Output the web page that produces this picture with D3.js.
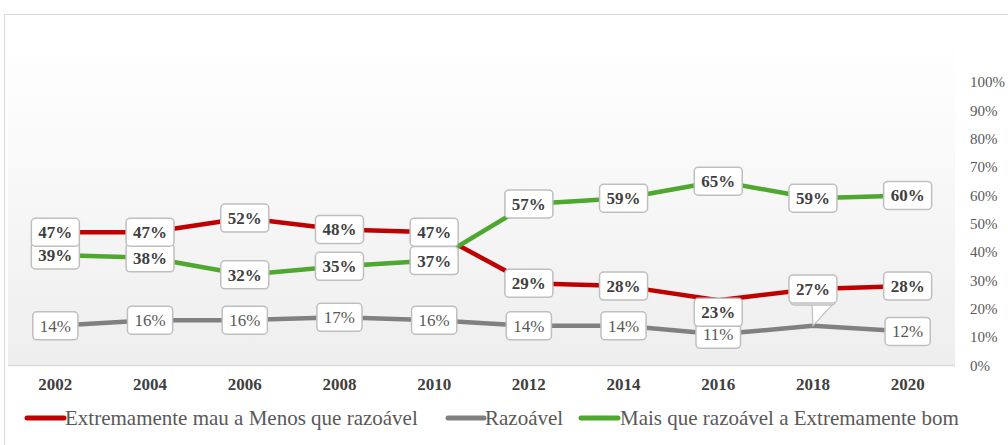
<!DOCTYPE html>
<html>
<head>
<meta charset="utf-8">
<script src="https://cdn.jsdelivr.net/npm/d3@7/dist/d3.min.js"></script>
<style>
  html, body { margin: 0; padding: 0; background: #fff; }
  svg { display: block; }
</style>
</head>
<body>
<svg id="chart" width="1008" height="445"></svg>
<script>
const years = ["2002","2004","2006","2008","2010","2012","2014","2016","2018","2020"];
const seriesNames = ["Extremamente mau a Menos que razoável", "Razoável", "Mais que razoável a Extremamente bom"];
const seriesColors = ["#c00000", "#808080", "#4ea72e"];
const redValues = [47, 47, 52, 48, 47, 29, 28, 23, 27, 28];
const grayValues = [14, 16, 16, 17, 16, 14, 14, 11, 14, 12];
const greenValues = [39, 38, 32, 35, 37, 57, 59, 65, 59, 60];
const yTicks = [0, 10, 20, 30, 40, 50, 60, 70, 80, 90, 100];

const series = [
  { name: seriesNames[0], color: seriesColors[0], values: redValues, bold: true },
  { name: seriesNames[1], color: seriesColors[1], values: grayValues, bold: false },
  { name: seriesNames[2], color: seriesColors[2], values: greenValues, bold: true }
];

const svg = d3.select("#chart");
const font = "'Liberation Serif', 'Times New Roman', serif";

// outer frame
svg.append("rect").attr("x", 4.5).attr("y", 14.5).attr("width", 1010).attr("height", 440)
  .attr("fill", "#fff").attr("stroke", "#d9d9d9").attr("stroke-width", 1);

const plot = { left: 8, right: 955, top: 40, bottom: 365.5 };

const x = d3.scaleBand().domain(years).range([plot.left, plot.right]).padding(0);
const xc = d => x(d) + x.bandwidth() / 2;
const y = d3.scaleLinear().domain([0, 100]).range([365.5, 82]);

// gradient background
const defs = svg.append("defs");
const grad = defs.append("linearGradient").attr("id", "bg").attr("x1", 0).attr("y1", 0).attr("x2", 0).attr("y2", 1);
grad.append("stop").attr("offset", "0%").attr("stop-color", "#ffffff");
grad.append("stop").attr("offset", "100%").attr("stop-color", "#eeeeee");
svg.append("rect").attr("x", plot.left).attr("y", plot.top)
  .attr("width", plot.right - plot.left).attr("height", plot.bottom - plot.top)
  .attr("fill", "url(#bg)");

// bottom axis line
svg.append("line").attr("x1", plot.left).attr("x2", plot.right)
  .attr("y1", plot.bottom).attr("y2", plot.bottom)
  .attr("stroke", "#d9d9d9").attr("stroke-width", 1.5);

// x axis labels
const xAxis = d3.axisBottom(x).tickSize(0).tickPadding(0);
const gx = svg.append("g").attr("transform", `translate(0,${plot.bottom})`).call(xAxis);
gx.select(".domain").remove();
gx.selectAll("text").attr("font-family", font).attr("font-size", 17).attr("font-weight", "bold")
  .attr("fill", "#404040").attr("dy", null).attr("y", 24);

// y axis labels (right)
const yAxis = d3.axisRight(y).tickValues(yTicks).tickSize(0).tickPadding(0).tickFormat(d => d + "%");
const gy = svg.append("g").attr("transform", `translate(970,0)`).call(yAxis);
gy.select(".domain").remove();
gy.selectAll("text").attr("font-family", font).attr("font-size", 15).attr("fill", "#595959")
  .attr("text-anchor", "start").attr("x", 0);

// lines
const line = d3.line().x((d, i) => xc(years[i])).y(d => y(d));
series.forEach(s => {
  svg.append("path").datum(s.values).attr("d", line)
    .attr("fill", "none").attr("stroke", s.color).attr("stroke-width", 4.5)
    .attr("stroke-linejoin", "round");
});

// labels
function drawLabel(g, cx, cy, text, bold, callout) {
  const grp = g.append("g");
  const t = grp.append("text").attr("x", cx).attr("y", cy).attr("dy", "0.35em")
    .attr("text-anchor", "middle").attr("font-family", font).attr("font-size", 17)
    .attr("font-weight", bold ? "bold" : "normal").attr("fill", bold ? "#404040" : "#595959")
    .text(text);
  const w = t.node().getComputedTextLength() + 14;
  const h = 28;
  if (callout) {
    grp.insert("path", "text")
      .attr("d", `M${callout.x0},${cy + h / 2 - 1} L${callout.tx},${callout.ty} L${callout.x1},${cy + h / 2 - 1}`)
      .attr("fill", "#fff").attr("stroke", "#bfbfbf").attr("stroke-width", 1.2);
  }
  grp.insert("rect", "text").attr("x", cx - w / 2).attr("y", cy - h / 2)
    .attr("width", w).attr("height", h).attr("rx", 4)
    .attr("fill", "#fff").attr("stroke", "#bfbfbf").attr("stroke-width", 1.5);
  return grp;
}

const labelsLayer = svg.append("g");
const order = [1, 2, 0]; // gray, green, red
order.forEach(si => {
  const s = series[si];
  s.values.forEach((v, i) => {
    const px = xc(years[i]), py = y(v);
    let cx = px, cy = py, callout = null;
    if (si === 0 && years[i] === "2016") { cy = py + 12; }
    if (si === 1 && years[i] === "2018") {
      const ry = y(redValues[i]);
      cy = ry + 2;
      callout = { x0: px - 1, x1: px + 20, tx: px, ty: py };
    }
    drawLabel(labelsLayer, cx, cy, v + "%", s.bold, callout);
  });
});

// legend
const legend = svg.append("g");
const legendItems = [
  { x0: 27, x1: 64, tx: 65 },
  { x0: 448, x1: 484, tx: 485 },
  { x0: 581, x1: 618, tx: 620 }
];
series.forEach((s, i) => {
  const it = legendItems[i];
  legend.append("line").attr("x1", it.x0).attr("x2", it.x1).attr("y1", 418).attr("y2", 418)
    .attr("stroke", s.color).attr("stroke-width", 5).attr("stroke-linecap", "round");
  legend.append("text").attr("x", it.tx).attr("y", 418).attr("dy", "0.35em")
    .attr("font-family", font).attr("font-size", 21).attr("fill", "#595959").text(s.name);
});
</script>
</body>
</html>
